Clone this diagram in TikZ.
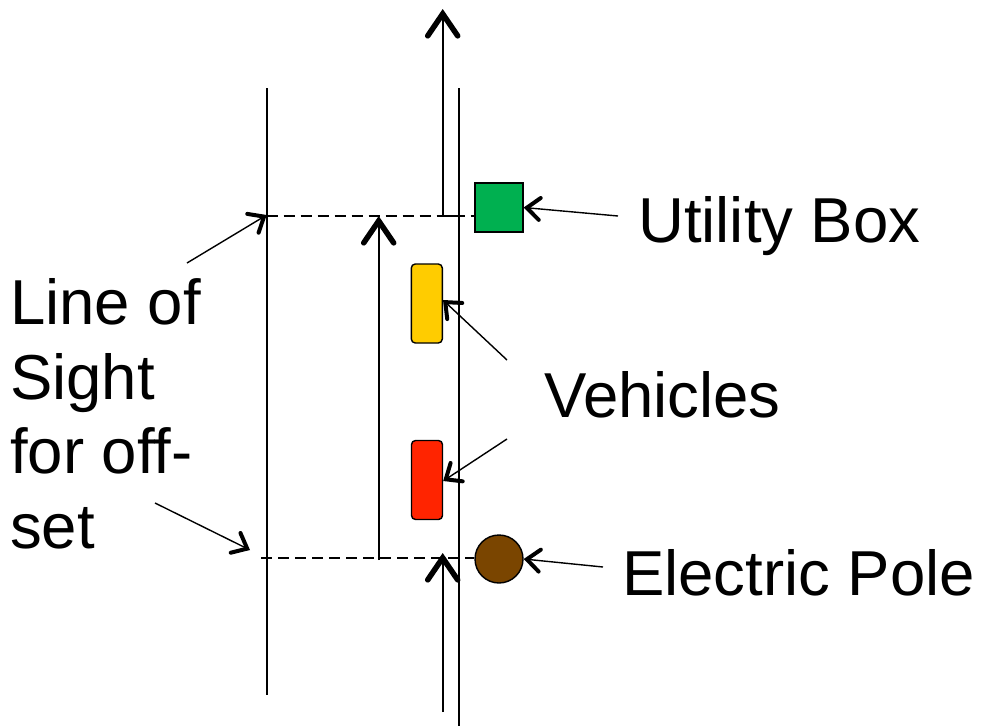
\documentclass[tikz,border=0pt]{standalone}
\usepackage{fontspec}
\setmainfont{Liberation Sans}
\usetikzlibrary{arrows.meta, positioning}
\definecolor{boxgreen}{RGB}{0,176,80}
\definecolor{caryellow}{RGB}{255,204,0}
\definecolor{carred}{RGB}{255,36,0}
\definecolor{polebrown}{RGB}{122,69,0}

\begin{document}
\begin{tikzpicture}[
    x=1pt, y=-1pt,
    road/.style={line width=1.8pt},
    sightline/.style={line width=1.4pt, dash pattern=on 11pt off 6pt},
    lanearrow/.style={line width=1.8pt, -{Straight Barb[length=22pt, width=30pt, line width=5.5pt 0 1, line cap=round]}},
    callout/.style={line width=1.4pt, -{Straight Barb[length=13pt, width=22pt, line width=4pt 0 1, line cap=round]}},
    carbox/.style={rectangle, rounded corners=4pt, draw, line width=1.4pt,
        minimum width=31pt, minimum height=79pt, inner sep=0pt},
    label/.style={inner sep=0pt, anchor=base west, align=left,
        font=\fontsize{63.5}{74.5}\selectfont}
]
    \useasboundingbox (0,0) rectangle (982,726);

    % Road edges
    \draw[road] (266.7,88) -- (266.7,695);
    \draw[road] (458.7,88) -- (458.7,726);

    % Roadside objects and vehicles
    \node[rectangle, draw, line width=1.4pt, fill=boxgreen, minimum width=48pt,
        minimum height=49pt, inner sep=0pt] (utilbox) at (499,207.5) {};
    \node[carbox, fill=caryellow] (car1) at (426.8,303.5) {};
    \node[carbox, fill=carred] (car2) at (427,480) {};
    \node[circle, draw, line width=1.4pt, fill=polebrown, minimum size=48pt,
        inner sep=0pt] (pole) at (499,559) {};

    % Lines of sight
    \coordinate (sighttop) at (266.7,216);
    \coordinate (sightbot) at (261,558);
    \draw[sightline] (sighttop) -- (utilbox.west |- sighttop);
    \draw[sightline] (sightbot) -- (pole.west |- sightbot);

    % Lane arrows
    \draw[lanearrow] (458.7,216) -- (442.7,216) -- (442.7,9);
    \draw[lanearrow] (378.7,560) -- (378.7,216);
    \draw[lanearrow] (442.7,712) -- (442.7,553);

    % Labels
    \node[label] (utiltext) at (638,242) {Utility Box};
    \node[label] (cartext) at (544,417) {Vehicles};
    \node[label] (poletext) at (622,595) {Electric Pole};
    \node[label] (sighttext) at (10,548) {Line of\\Sight\\for off-\\set};

    % Callouts
    \coordinate (utiltail) at (618,216);
    \coordinate (cartail1) at (507,360);
    \coordinate (cartail2) at (507,439);
    \coordinate (poletail) at (603,567);
    \coordinate (sighttail1) at (187,263);
    \coordinate (sighttail2) at (155,503);
    \coordinate (sighthead2) at (250,550);
    \draw[callout] (utiltail) -- (utilbox.east);
    \draw[callout] (cartail1) -- ([yshift=3.5pt]car1.east);
    \draw[callout] (cartail2) -- ([yshift=-1pt]car2.east);
    \draw[callout] (poletail) -- (pole.east);
    \draw[callout] (sighttail1) -- ([yshift=1pt]sighttop);
    \draw[callout] (sighttail2) -- (sighthead2);
\end{tikzpicture}
\end{document}
